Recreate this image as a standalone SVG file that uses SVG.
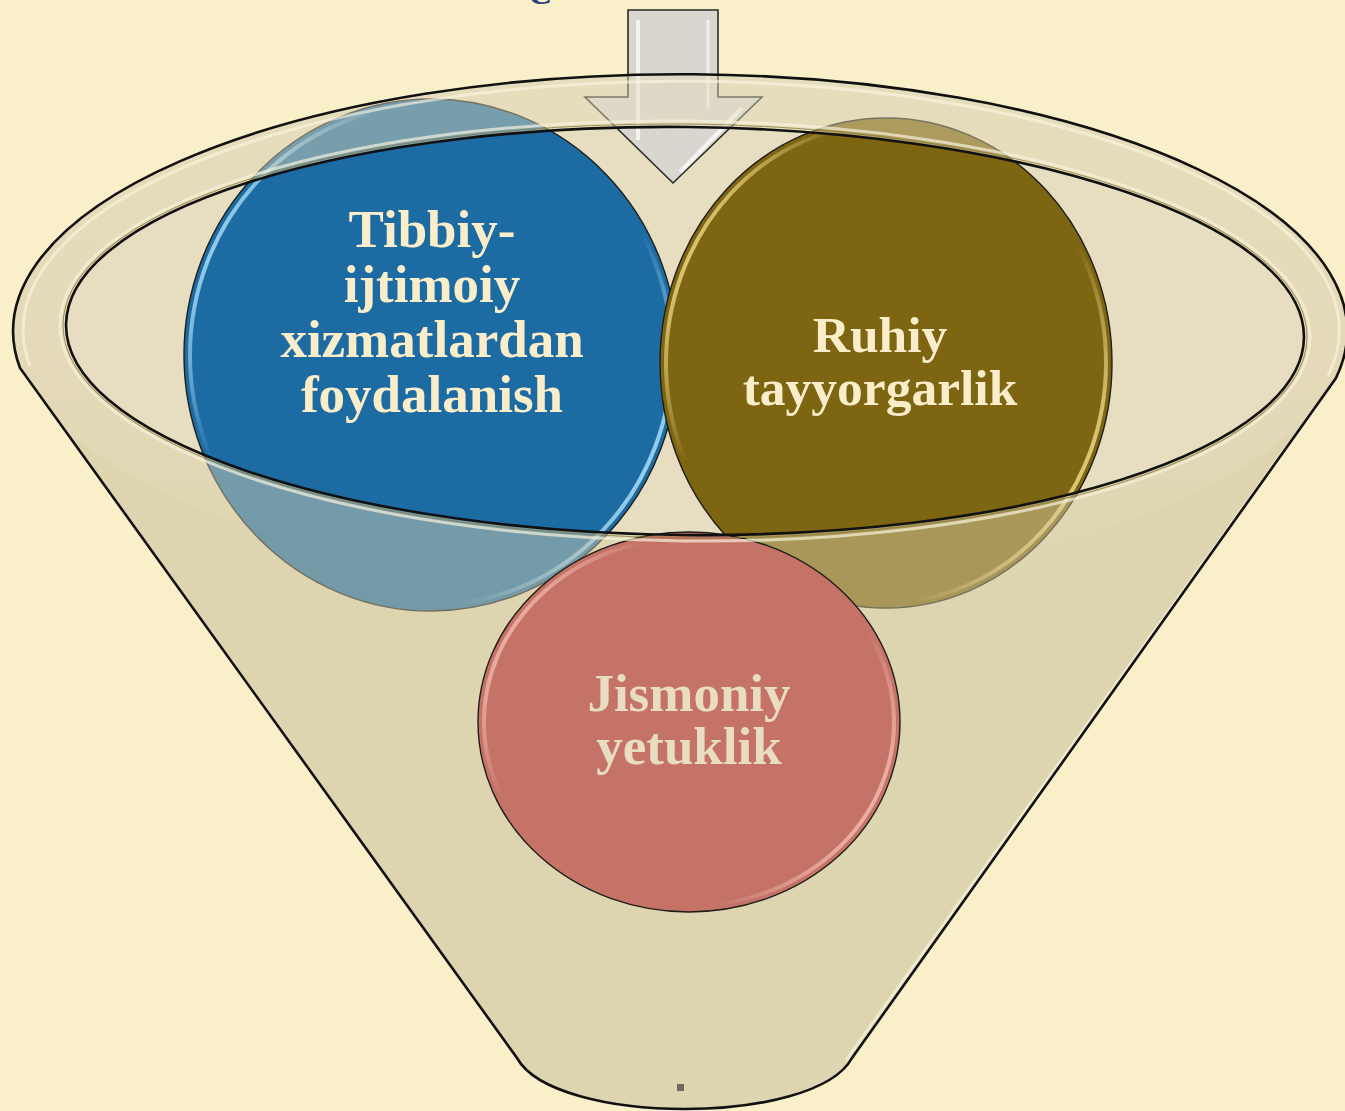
<svg xmlns="http://www.w3.org/2000/svg" width="1345" height="1111" viewBox="0 0 1345 1111">
<style>
.lbl{font-family:"Liberation Serif","Times New Roman",serif;font-weight:bold;text-anchor:middle}
.cream{fill:#f9edca}
.beige{fill:#e8dcc1}
.edge{fill:none;stroke:#111;stroke-width:2.6}
.cedge{stroke:#1e1e1a;stroke-width:1.4}
</style>
<defs>
<linearGradient id="bandG" gradientUnits="userSpaceOnUse" x1="0" y1="73" x2="0" y2="600">
<stop offset="0" stop-color="#e6ddbc"/>
<stop offset="0.55" stop-color="#e4dab8"/>
<stop offset="1" stop-color="#ddd4b0"/>
</linearGradient>
<linearGradient id="hlBlue" x1="0" y1="0.25" x2="1" y2="0.75">
<stop offset="0" stop-color="#b6e6ff" stop-opacity="1"/>
<stop offset="0.22" stop-color="#b6e6ff" stop-opacity="0"/>
<stop offset="0.75" stop-color="#b6e6ff" stop-opacity="0"/>
<stop offset="1" stop-color="#b6e6ff" stop-opacity="1"/>
</linearGradient>
<linearGradient id="hlOlive" x1="0" y1="0.25" x2="1" y2="0.75">
<stop offset="0" stop-color="#f4e08e" stop-opacity="1"/>
<stop offset="0.22" stop-color="#f4e08e" stop-opacity="0"/>
<stop offset="0.75" stop-color="#f4e08e" stop-opacity="0"/>
<stop offset="1" stop-color="#f4e08e" stop-opacity="1"/>
</linearGradient>
<linearGradient id="hlPink" x1="0" y1="0.25" x2="1" y2="0.75">
<stop offset="0" stop-color="#f6bdb2" stop-opacity="1"/>
<stop offset="0.22" stop-color="#f6bdb2" stop-opacity="0"/>
<stop offset="0.75" stop-color="#f6bdb2" stop-opacity="0"/>
<stop offset="1" stop-color="#f6bdb2" stop-opacity="1"/>
</linearGradient>
<path id="sil" d="M20,368 A667,257 0 1 1 1336,378 L852,1058 C815,1126 555,1126 517,1058 Z"/>
<ellipse id="outerE" cx="680" cy="330" rx="667" ry="257"/>
<ellipse id="innerE" cx="685" cy="331" rx="619" ry="204" transform="rotate(0.6 685 331)"/>
<clipPath id="silClip"><use href="#sil"/></clipPath>
<mask id="hole" maskUnits="userSpaceOnUse" x="0" y="0" width="1345" height="1111">
<rect x="0" y="0" width="1345" height="1111" fill="#fff"/>
<use href="#innerE" fill="#000"/>
</mask>
</defs>

<rect x="0" y="0" width="1345" height="1111" fill="#f9efc9"/>

<text class="lbl" x="540" y="4" font-size="34" fill="#2c3f7c">C</text>

<g id="funnel">
<use href="#sil" fill="#ddd4b0"/>
<use href="#outerE" fill="url(#bandG)" clip-path="url(#silClip)"/>
<use href="#innerE" fill="#e7dec1"/>
</g>

<g id="connectors">
<path d="M628,10 H718 V97 H762 L673,183 L585,97 H628 Z" fill="#d9d6d0" stroke="#2a2a2a" stroke-width="1.6"/>
<path d="M638,20 V140" stroke="#ffffff" stroke-width="4" opacity="0.7" fill="none"/>
<path d="M708,20 V108" stroke="#ffffff" stroke-width="3" opacity="0.6" fill="none"/>
<path d="M742,108 L680,172" stroke="#ffffff" stroke-width="4" opacity="0.75" fill="none"/>
</g>

<g id="node-tibbiy">
<ellipse cx="431" cy="355" rx="247" ry="256" fill="#1d6ba3" class="cedge"/>
<ellipse cx="431" cy="355" rx="241" ry="250" fill="none" stroke="url(#hlBlue)" stroke-width="4"/>
<text class="lbl cream" font-size="53" x="432"><tspan x="432" y="247">Tibbiy-</tspan><tspan x="432" y="302">ijtimoiy</tspan><tspan x="432" y="357">xizmatlardan</tspan><tspan x="432" y="412">foydalanish</tspan></text>
</g>

<g id="node-ruhiy">
<ellipse cx="886" cy="363" rx="226" ry="245" fill="#7e6511" class="cedge"/>
<ellipse cx="886" cy="363" rx="220" ry="239" fill="none" stroke="url(#hlOlive)" stroke-width="4"/>
<text class="lbl cream" font-size="51.5" x="880"><tspan x="880" y="352">Ruhiy</tspan><tspan x="880" y="405">tayyorgarlik</tspan></text>
</g>

<g id="funnel-overlay" mask="url(#hole)" opacity="0.45">
<use href="#sil" fill="#ddd4b0"/>
<use href="#outerE" fill="url(#bandG)" clip-path="url(#silClip)"/>
</g>

<g id="node-jismoniy">
<ellipse cx="689" cy="722" rx="211" ry="190" fill="#c47366" class="cedge"/>
<ellipse cx="689" cy="722" rx="205" ry="184" fill="none" stroke="url(#hlPink)" stroke-width="4"/>
<text class="lbl beige" font-size="53" x="689"><tspan x="689" y="711">Jismoniy</tspan><tspan x="689" y="764">yetuklik</tspan></text>
</g>

<g id="funnel-rims">
<ellipse cx="685" cy="331" rx="625" ry="210" transform="rotate(0.6 685 331)" fill="none" stroke="#f7f1da" stroke-width="3" opacity="0.7" clip-path="url(#silClip)"/>
<ellipse cx="685" cy="331" rx="622" ry="207" transform="rotate(0.6 685 331)" fill="none" stroke="#8d8040" stroke-width="1" opacity="0.8"/>
<use href="#innerE" class="edge"/>
<path d="M30,366 A658,249 0 1 1 1328,376 M1320,400 L846,1060" fill="none" stroke="#fbf6e2" stroke-width="3" opacity="0.6"/>
<use href="#sil" class="edge"/>
</g>

<rect id="dot" x="677" y="1084" width="7" height="7" fill="#6b6a5c"/>
</svg>
